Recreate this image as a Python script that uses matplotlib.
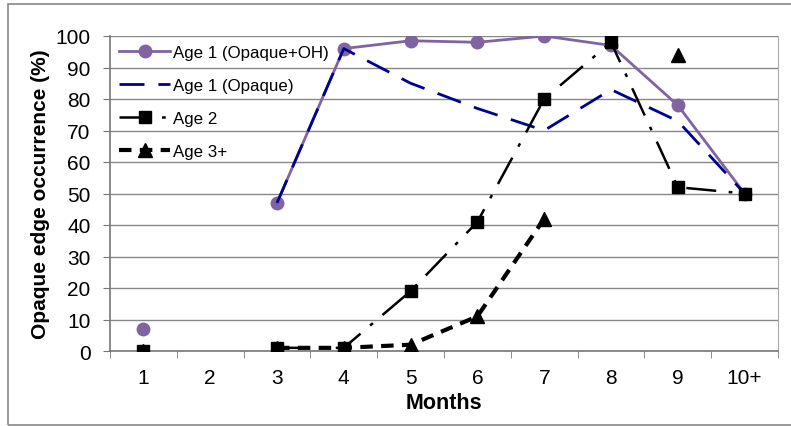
import numpy as np
import matplotlib.pyplot as plt
from matplotlib.patches import Rectangle

months = ["1", "2", "3", "4", "5", "6", "7", "8", "9", "10+"]
age1_opaque_oh = [7, np.nan, 47, 96, 98.5, 98, 100, 97, 78, 50]
age1_opaque = [np.nan, np.nan, 47, 96, 85, 77, 70, 83, 73, 50]
age2 = [0, np.nan, 1, 1, 19, 41, 80, 98, 52, 50]
age3 = [0, np.nan, 1, 1, 2, 11, 42, np.nan, 94, np.nan]

plt.rcParams['font.family'] = ['Liberation Sans', 'DejaVu Sans']

fig = plt.figure(figsize=(7.91, 4.27), dpi=100)
ax = fig.add_axes([110 / 791, 1 - 352 / 427, 668 / 791, 315 / 427])

# rahmen um die ganze grafik
fig.patches.append(Rectangle((8 / 791, 1 / 427), 1.0, 421 / 427, transform=fig.transFigure,
                             fill=False, edgecolor='#888888', linewidth=1.2))

x = np.arange(1, len(months) + 1)

ax.plot(x, age1_opaque_oh, color='#8064A2', linewidth=2, marker='o', markersize=9,
        label='Age 1 (Opaque+OH)', zorder=3)
ax.plot(x, age1_opaque, color='#000090', linewidth=2, dashes=(9, 5),
        label='Age 1 (Opaque)', zorder=4)
ax.plot(x, age2, color='black', linewidth=1.8, marker='s', markersize=8,
        dashes=(12, 5, 1.5, 5), label='Age 2', zorder=5)
ax.plot(x, age3, color='black', linewidth=3, marker='^', markersize=10,
        dashes=(3, 2), label='Age 3+', zorder=6)

ax.set_xlim(0.5, 10.5)
ax.set_ylim(0, 100)
ax.set_yticks(range(0, 101, 10))
ax.set_xticks(x)
ax.set_xticklabels(months)
ax.set_xticks(np.arange(0.5, 11, 1), minor=True)
ax.tick_params(axis='x', which='major', length=0, labelsize=15, pad=12.5)
ax.tick_params(axis='x', which='minor', length=5, color='#777777', direction='out')
ax.tick_params(axis='y', length=5, color='#777777', labelsize=15, pad=9)

ax.grid(axis='y', color='#888888', linewidth=1)
ax.set_axisbelow(True)
for side in ['left', 'bottom']:
    ax.spines[side].set_color('#777777')
    ax.spines[side].set_linewidth(1.2)
ax.spines['top'].set_visible(False)
ax.spines['right'].set_color('#aaaaaa')

ax.set_xlabel('Months', fontsize=15.5, fontweight='bold', labelpad=3)
ax.set_ylabel('Opaque edge occurrence (%)', fontsize=15, fontweight='bold', labelpad=4)

leg = ax.legend(loc='upper left', frameon=False, fontsize=12.2, handlelength=3,
                labelspacing=1.05, borderaxespad=0.15, handletextpad=0.15,
                bbox_to_anchor=(0.0, 1.0))

fig.savefig('out.png', dpi=100)
